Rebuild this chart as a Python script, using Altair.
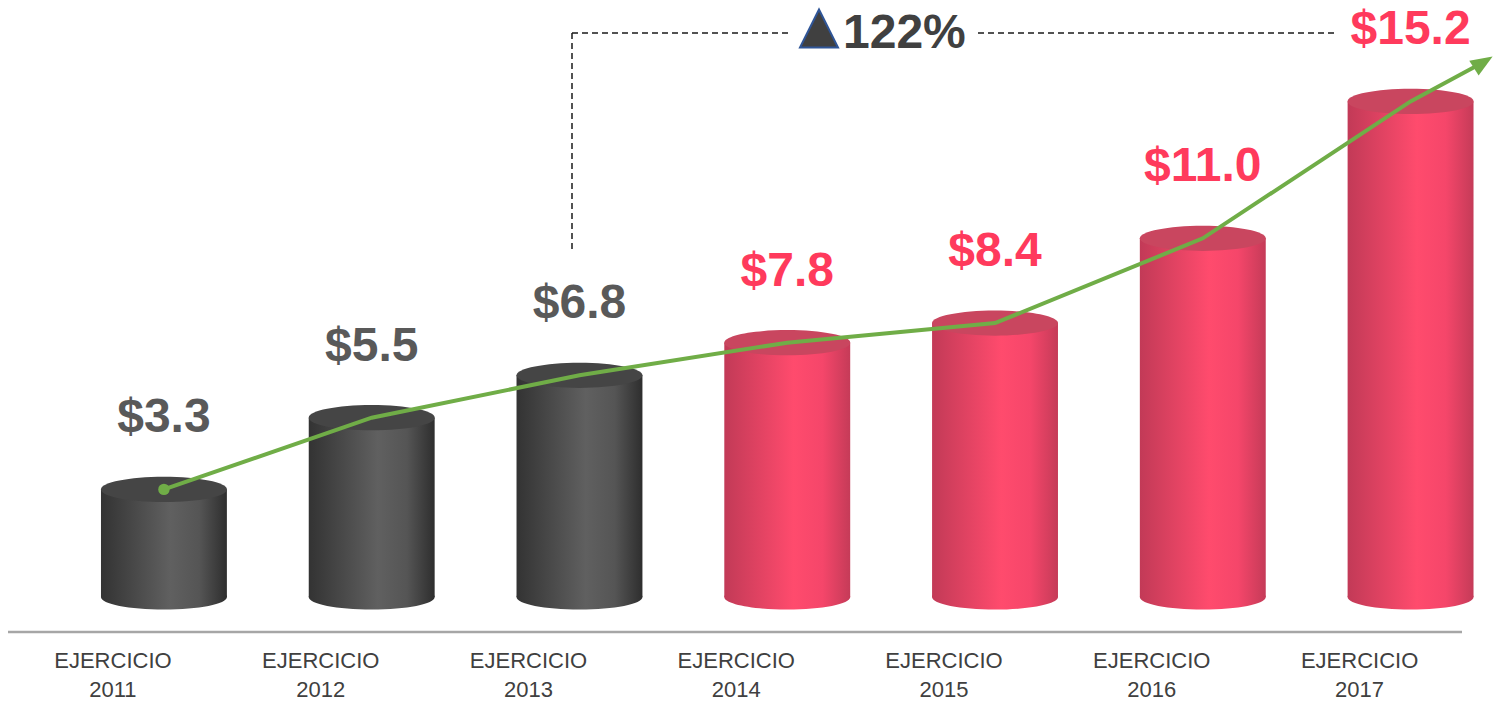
import altair as alt
import pandas as pd

years = ["2011", "2012", "2013", "2014", "2015", "2016", "2017"]
values = [3.3, 5.5, 6.8, 7.8, 8.4, 11.0, 15.2]
value_labels = ["$3.3", "$5.5", "$6.8", "$7.8", "$8.4", "$11.0", "$15.2"]
periods = ["previo", "previo", "previo", "actual", "actual", "actual", "actual"]
axis_word = "EJERCICIO"
growth_label = "122%"
trend_end_x = 6.35
trend_end_y = 16.4

df = pd.DataFrame({
    "i": list(range(len(years))),
    "year": years,
    "v": values,
    "lab": value_labels,
    "grp": periods,
    "word": [axis_word] * len(years),
})
trend = pd.DataFrame({
    "i": list(range(len(years))) + [trend_end_x],
    "v": values + [trend_end_y],
    "o": list(range(len(years) + 1)),
})
one = pd.DataFrame({"a": [0]})

XS = alt.Scale(domain=[-0.789, 6.416])
YS = alt.Scale(domain=[-3.19, 18.31])
BAR_PX = 126
HALF = 0.303
ELLIPSE = "M -1 0 A 1 0.2 0 1 1 1 0 A 1 0.2 0 1 1 -1 0 Z"


def grad(stops):
    return alt.Gradient(
        gradient="linear", x1=0, x2=1, y1=0, y2=0,
        stops=[alt.GradientStop(offset=o, color=c) for o, c in stops],
    )


gray_grad = grad([(0, "#333333"), (0.55, "#606060"), (0.78, "#555555"), (1, "#2e2e2e")])
red_grad = grad([(0, "#c23a57"), (0.55, "#ff4b6d"), (0.78, "#f5466a"), (1, "#c53b58")])

base = alt.Chart(df).transform_calculate(
    xl=f"datum.i - {HALF}", xr=f"datum.i + {HALF}", zero="0"
)

layers = []
for grp, g, top in [("previo", gray_grad, "#454545"), ("actual", red_grad, "#c9465f")]:
    b = base.transform_filter(alt.datum.grp == grp)
    layers.append(
        b.mark_point(shape=ELLIPSE, size=BAR_PX ** 2, filled=True, fill=g, strokeWidth=0, opacity=1)
        .encode(x=alt.X("i:Q", scale=XS, axis=None), y=alt.Y("zero:Q", scale=YS, axis=None))
    )
    layers.append(
        b.mark_rect(fill=g)
        .encode(
            x=alt.X("xl:Q", scale=XS, axis=None), x2="xr:Q",
            y=alt.Y("v:Q", scale=YS, axis=None), y2="zero:Q",
        )
    )
    layers.append(
        b.mark_point(shape=ELLIPSE, size=BAR_PX ** 2, filled=True, fill=top, strokeWidth=0, opacity=1)
        .encode(x=alt.X("i:Q", scale=XS, axis=None), y=alt.Y("v:Q", scale=YS, axis=None))
    )

green = "#70ad47"
line = alt.Chart(trend).mark_line(color=green, strokeWidth=4).encode(
    x=alt.X("i:Q", scale=XS, axis=None), y=alt.Y("v:Q", scale=YS, axis=None), order="o:Q"
)
dot = alt.Chart(trend).transform_filter(alt.datum.o == 0).mark_point(
    filled=True, size=130, color=green, opacity=1
).encode(x=alt.X("i:Q", scale=XS, axis=None), y=alt.Y("v:Q", scale=YS, axis=None))
head = alt.Chart(trend).transform_filter(alt.datum.o == len(years)).mark_point(
    shape="M 1 0 L -1 -0.8 L -1 0.8 Z", size=484, angle=328, filled=True, color=green, opacity=1
).encode(x=alt.X("i:Q", scale=XS, axis=None), y=alt.Y("v:Q", scale=YS, axis=None))

vlabels = alt.Chart(df).mark_text(
    font="Liberation Sans", fontWeight="bold", fontSize=48, dy=-57, baseline="alphabetic", align="center"
).encode(
    x=alt.X("i:Q", scale=XS, axis=None), y=alt.Y("v:Q", scale=YS, axis=None), text="lab:N",
    color=alt.Color("grp:N", scale=alt.Scale(domain=["previo", "actual"], range=["#595959", "#ff3a5c"]), legend=None),
)

axis_line = alt.Chart(one).mark_rule(color="#a6a6a6", strokeWidth=2.5).encode(
    x=alt.value(8), x2=alt.value(1462), y=alt.value(632)
)
cat1 = alt.Chart(df).mark_text(font="Liberation Sans", fontSize=22, color="#404040", baseline="alphabetic", dx=-51).encode(
    x=alt.X("i:Q", scale=XS, axis=None), y=alt.value(668), text="word:N"
)
cat2 = alt.Chart(df).mark_text(font="Liberation Sans", fontSize=22, color="#404040", baseline="alphabetic", dx=-51).encode(
    x=alt.X("i:Q", scale=XS, axis=None), y=alt.value(697), text="year:N"
)

dash = dict(color="#1a1a1a", strokeWidth=1.5, strokeDash=[6, 4])
br1 = alt.Chart(one).mark_rule(**dash).encode(x=alt.value(572), y=alt.value(33), y2=alt.value(250))
br2 = alt.Chart(one).mark_rule(**dash).encode(x=alt.value(572), x2=alt.value(790), y=alt.value(33))
br3 = alt.Chart(one).mark_rule(**dash).encode(x=alt.value(978), x2=alt.value(1335), y=alt.value(33))
tri = alt.Chart(one).mark_point(
    shape="M 0 -1 L 1 1 L -1 1 Z", size=1444, filled=True, fill="#404040", stroke="#2f5597", strokeWidth=2, opacity=1
).encode(x=alt.value(819), y=alt.value(28.5))
growth = alt.Chart(one).mark_text(
    text=growth_label, font="Liberation Sans", fontWeight="bold", fontSize=48, color="#404040",
    align="left", baseline="alphabetic",
).encode(x=alt.value(843), y=alt.value(48))

chart = alt.layer(
    *layers, line, dot, head, vlabels, axis_line, cat1, cat2, br1, br2, br3, tri, growth
).properties(
    width=1497, height=701, padding=0, autosize=alt.AutoSizeParams(type="none")
).configure_view(strokeWidth=0)

chart.save("out.html", embed_options={"renderer": "svg", "actions": False})
